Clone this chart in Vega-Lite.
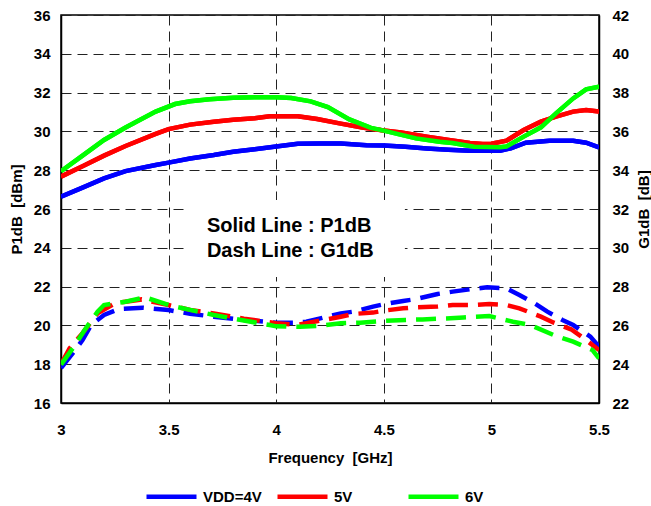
{
  "$schema": "https://vega.github.io/schema/vega-lite/v6.json",
  "width": 538,
  "height": 388,
  "autosize": {"type": "none"},
  "padding": {"left": 61, "top": 15, "right": 52, "bottom": 103},
  "background": "white",
  "config": {
    "font": "Liberation Sans",
    "view": {"stroke": "black", "strokeWidth": 1.5},
    "axis": {
      "labelFont": "Liberation Sans",
      "labelFontWeight": "bold",
      "labelFontSize": 15,
      "labelColor": "black",
      "labelOverlap": false,
      "labelFlush": false,
      "labelBound": false,
      "titleFont": "Liberation Sans",
      "titleFontWeight": "bold",
      "titleFontSize": 15,
      "titleColor": "black",
      "tickSize": 0,
      "domainColor": "black",
      "domainWidth": 1.5,
      "gridColor": "#222",
      "gridDash": [10, 6],
      "gridWidth": 1
    },
    "legend": {
      "orient": "none",
      "legendX": 83,
      "legendY": 454,
      "direction": "horizontal",
      "symbolType": "stroke",
      "symbolSize": 2500,
      "symbolStrokeWidth": 4.5,
      "labelFont": "Liberation Sans",
      "labelFontWeight": "bold",
      "labelFontSize": 15,
      "labelColor": "black",
      "labelOffset": 4,
      "gridAlign": "all",
      "columnPadding": 6,
      "title": null
    }
  },
  "datasets": {
    "p1db": [
      {"f": 3.0, "v": 26.63, "s": "VDD=4V"}, {"f": 3.1, "v": 27.1, "s": "VDD=4V"}, {"f": 3.2, "v": 27.58, "s": "VDD=4V"},
      {"f": 3.3, "v": 27.95, "s": "VDD=4V"}, {"f": 3.44, "v": 28.27, "s": "VDD=4V"}, {"f": 3.5, "v": 28.39, "s": "VDD=4V"},
      {"f": 3.6, "v": 28.6, "s": "VDD=4V"}, {"f": 3.71, "v": 28.78, "s": "VDD=4V"}, {"f": 3.8, "v": 28.95, "s": "VDD=4V"},
      {"f": 3.9, "v": 29.08, "s": "VDD=4V"}, {"f": 4.0, "v": 29.22, "s": "VDD=4V"}, {"f": 4.1, "v": 29.36, "s": "VDD=4V"},
      {"f": 4.2, "v": 29.38, "s": "VDD=4V"}, {"f": 4.3, "v": 29.38, "s": "VDD=4V"}, {"f": 4.42, "v": 29.28, "s": "VDD=4V"},
      {"f": 4.5, "v": 29.27, "s": "VDD=4V"}, {"f": 4.6, "v": 29.21, "s": "VDD=4V"}, {"f": 4.7, "v": 29.12, "s": "VDD=4V"},
      {"f": 4.8, "v": 29.05, "s": "VDD=4V"}, {"f": 4.9, "v": 29.0, "s": "VDD=4V"}, {"f": 5.04, "v": 29.0, "s": "VDD=4V"},
      {"f": 5.09, "v": 29.13, "s": "VDD=4V"}, {"f": 5.16, "v": 29.42, "s": "VDD=4V"}, {"f": 5.27, "v": 29.52, "s": "VDD=4V"},
      {"f": 5.38, "v": 29.52, "s": "VDD=4V"}, {"f": 5.44, "v": 29.42, "s": "VDD=4V"}, {"f": 5.5, "v": 29.18, "s": "VDD=4V"},

      {"f": 3.0, "v": 27.67, "s": "5V"}, {"f": 3.1, "v": 28.2, "s": "5V"}, {"f": 3.2, "v": 28.75, "s": "5V"},
      {"f": 3.3, "v": 29.25, "s": "5V"}, {"f": 3.44, "v": 29.87, "s": "5V"}, {"f": 3.5, "v": 30.12, "s": "5V"},
      {"f": 3.6, "v": 30.35, "s": "5V"}, {"f": 3.71, "v": 30.5, "s": "5V"}, {"f": 3.8, "v": 30.6, "s": "5V"},
      {"f": 3.9, "v": 30.68, "s": "5V"}, {"f": 3.97, "v": 30.78, "s": "5V"}, {"f": 4.1, "v": 30.78, "s": "5V"},
      {"f": 4.19, "v": 30.64, "s": "5V"}, {"f": 4.3, "v": 30.4, "s": "5V"}, {"f": 4.4, "v": 30.2, "s": "5V"},
      {"f": 4.5, "v": 30.05, "s": "5V"}, {"f": 4.58, "v": 29.95, "s": "5V"}, {"f": 4.7, "v": 29.73, "s": "5V"},
      {"f": 4.81, "v": 29.55, "s": "5V"}, {"f": 4.9, "v": 29.4, "s": "5V"}, {"f": 4.96, "v": 29.35, "s": "5V"},
      {"f": 5.0, "v": 29.36, "s": "5V"}, {"f": 5.07, "v": 29.52, "s": "5V"}, {"f": 5.15, "v": 30.07, "s": "5V"},
      {"f": 5.23, "v": 30.5, "s": "5V"}, {"f": 5.3, "v": 30.76, "s": "5V"}, {"f": 5.38, "v": 31.02, "s": "5V"},
      {"f": 5.44, "v": 31.1, "s": "5V"}, {"f": 5.5, "v": 31.02, "s": "5V"},

      {"f": 3.0, "v": 27.95, "s": "6V"}, {"f": 3.1, "v": 28.75, "s": "6V"}, {"f": 3.2, "v": 29.56, "s": "6V"},
      {"f": 3.3, "v": 30.2, "s": "6V"}, {"f": 3.44, "v": 31.02, "s": "6V"}, {"f": 3.53, "v": 31.41, "s": "6V"},
      {"f": 3.6, "v": 31.55, "s": "6V"}, {"f": 3.69, "v": 31.66, "s": "6V"}, {"f": 3.8, "v": 31.74, "s": "6V"},
      {"f": 3.9, "v": 31.76, "s": "6V"}, {"f": 4.0, "v": 31.76, "s": "6V"}, {"f": 4.07, "v": 31.72, "s": "6V"},
      {"f": 4.16, "v": 31.55, "s": "6V"}, {"f": 4.24, "v": 31.25, "s": "6V"}, {"f": 4.34, "v": 30.62, "s": "6V"},
      {"f": 4.44, "v": 30.18, "s": "6V"}, {"f": 4.5, "v": 30.04, "s": "6V"}, {"f": 4.65, "v": 29.64, "s": "6V"},
      {"f": 4.76, "v": 29.47, "s": "6V"}, {"f": 4.82, "v": 29.4, "s": "6V"}, {"f": 4.92, "v": 29.21, "s": "6V"},
      {"f": 5.04, "v": 29.18, "s": "6V"}, {"f": 5.07, "v": 29.22, "s": "6V"}, {"f": 5.15, "v": 29.73, "s": "6V"},
      {"f": 5.23, "v": 30.21, "s": "6V"}, {"f": 5.3, "v": 30.93, "s": "6V"}, {"f": 5.38, "v": 31.7, "s": "6V"},
      {"f": 5.44, "v": 32.17, "s": "6V"}, {"f": 5.5, "v": 32.31, "s": "6V"}
    ],
    "g1db": [
      {"f": 3.0, "v": 23.8, "s": "VDD=4V"}, {"f": 3.06, "v": 24.64, "s": "VDD=4V"}, {"f": 3.1, "v": 25.25, "s": "VDD=4V"},
      {"f": 3.14, "v": 26.02, "s": "VDD=4V"}, {"f": 3.2, "v": 26.54, "s": "VDD=4V"}, {"f": 3.27, "v": 26.85, "s": "VDD=4V"},
      {"f": 3.38, "v": 26.91, "s": "VDD=4V"}, {"f": 3.5, "v": 26.79, "s": "VDD=4V"}, {"f": 3.6, "v": 26.6, "s": "VDD=4V"},
      {"f": 3.71, "v": 26.45, "s": "VDD=4V"}, {"f": 3.85, "v": 26.28, "s": "VDD=4V"}, {"f": 4.0, "v": 26.14, "s": "VDD=4V"},
      {"f": 4.09, "v": 26.14, "s": "VDD=4V"}, {"f": 4.14, "v": 26.19, "s": "VDD=4V"}, {"f": 4.3, "v": 26.62, "s": "VDD=4V"},
      {"f": 4.36, "v": 26.71, "s": "VDD=4V"}, {"f": 4.45, "v": 26.97, "s": "VDD=4V"}, {"f": 4.5, "v": 27.09, "s": "VDD=4V"},
      {"f": 4.59, "v": 27.26, "s": "VDD=4V"}, {"f": 4.65, "v": 27.36, "s": "VDD=4V"}, {"f": 4.75, "v": 27.62, "s": "VDD=4V"},
      {"f": 4.82, "v": 27.74, "s": "VDD=4V"}, {"f": 4.9, "v": 27.86, "s": "VDD=4V"}, {"f": 4.98, "v": 27.96, "s": "VDD=4V"},
      {"f": 5.07, "v": 27.91, "s": "VDD=4V"}, {"f": 5.13, "v": 27.57, "s": "VDD=4V"}, {"f": 5.2, "v": 27.14, "s": "VDD=4V"},
      {"f": 5.26, "v": 26.71, "s": "VDD=4V"}, {"f": 5.33, "v": 26.28, "s": "VDD=4V"}, {"f": 5.38, "v": 26.02, "s": "VDD=4V"},
      {"f": 5.46, "v": 25.42, "s": "VDD=4V"}, {"f": 5.5, "v": 24.9, "s": "VDD=4V"},

      {"f": 3.0, "v": 24.0, "s": "5V"}, {"f": 3.04, "v": 24.82, "s": "5V"}, {"f": 3.1, "v": 25.6, "s": "5V"},
      {"f": 3.17, "v": 26.62, "s": "5V"}, {"f": 3.25, "v": 27.14, "s": "5V"}, {"f": 3.375, "v": 27.34, "s": "5V"},
      {"f": 3.5, "v": 27.05, "s": "5V"}, {"f": 3.6, "v": 26.8, "s": "5V"}, {"f": 3.71, "v": 26.62, "s": "5V"},
      {"f": 3.85, "v": 26.35, "s": "5V"}, {"f": 4.0, "v": 26.11, "s": "5V"}, {"f": 4.1, "v": 26.03, "s": "5V"},
      {"f": 4.14, "v": 26.11, "s": "5V"}, {"f": 4.3, "v": 26.45, "s": "5V"}, {"f": 4.36, "v": 26.59, "s": "5V"},
      {"f": 4.45, "v": 26.66, "s": "5V"}, {"f": 4.5, "v": 26.76, "s": "5V"}, {"f": 4.59, "v": 26.88, "s": "5V"},
      {"f": 4.65, "v": 26.93, "s": "5V"}, {"f": 4.75, "v": 26.97, "s": "5V"}, {"f": 4.82, "v": 27.05, "s": "5V"},
      {"f": 4.92, "v": 27.05, "s": "5V"}, {"f": 4.99, "v": 27.1, "s": "5V"}, {"f": 5.07, "v": 27.05, "s": "5V"},
      {"f": 5.13, "v": 26.88, "s": "5V"}, {"f": 5.23, "v": 26.45, "s": "5V"}, {"f": 5.29, "v": 26.14, "s": "5V"},
      {"f": 5.37, "v": 25.8, "s": "5V"}, {"f": 5.43, "v": 25.33, "s": "5V"}, {"f": 5.5, "v": 24.73, "s": "5V"},

      {"f": 3.0, "v": 23.98, "s": "6V"}, {"f": 3.06, "v": 24.9, "s": "6V"}, {"f": 3.11, "v": 25.76, "s": "6V"},
      {"f": 3.17, "v": 26.71, "s": "6V"}, {"f": 3.2, "v": 27.05, "s": "6V"}, {"f": 3.3, "v": 27.22, "s": "6V"},
      {"f": 3.39, "v": 27.45, "s": "6V"}, {"f": 3.5, "v": 27.05, "s": "6V"}, {"f": 3.6, "v": 26.8, "s": "6V"},
      {"f": 3.71, "v": 26.54, "s": "6V"}, {"f": 3.85, "v": 26.25, "s": "6V"}, {"f": 3.97, "v": 26.02, "s": "6V"},
      {"f": 4.0, "v": 25.95, "s": "6V"}, {"f": 4.11, "v": 25.93, "s": "6V"}, {"f": 4.19, "v": 25.97, "s": "6V"},
      {"f": 4.3, "v": 26.11, "s": "6V"}, {"f": 4.39, "v": 26.14, "s": "6V"}, {"f": 4.5, "v": 26.23, "s": "6V"},
      {"f": 4.6, "v": 26.28, "s": "6V"}, {"f": 4.68, "v": 26.31, "s": "6V"}, {"f": 4.79, "v": 26.36, "s": "6V"},
      {"f": 4.87, "v": 26.41, "s": "6V"}, {"f": 4.99, "v": 26.48, "s": "6V"}, {"f": 5.1, "v": 26.19, "s": "6V"},
      {"f": 5.18, "v": 26.02, "s": "6V"}, {"f": 5.29, "v": 25.5, "s": "6V"}, {"f": 5.38, "v": 25.16, "s": "6V"},
      {"f": 5.47, "v": 24.73, "s": "6V"}, {"f": 5.5, "v": 24.3, "s": "6V"}
    ],
    "note": [{"label": "box"}]
  },
  "layer": [
    {
      "layer": [
        {
          "data": {"name": "p1db"},
          "mark": {"type": "line", "strokeWidth": 4.5, "clip": true},
          "encoding": {
            "x": {
              "field": "f", "type": "quantitative",
              "scale": {"domain": [3, 5.5], "nice": false, "zero": false},
              "axis": {"values": [3, 3.5, 4, 4.5, 5, 5.5], "format": "~g", "title": "Frequency\u00a0 [GHz]", "labelPadding": 19, "titlePadding": 13, "grid": true}
            },
            "y": {
              "field": "v", "type": "quantitative",
              "scale": {"domain": [16, 36], "nice": false, "zero": false},
              "axis": {"values": [16, 18, 20, 22, 24, 26, 28, 30, 32, 34, 36], "tickCount": 11, "format": "d", "title": "P1dB\u00a0 [dBm]", "labelPadding": 11, "titlePadding": 9, "grid": true}
            },
            "color": {
              "field": "s", "type": "nominal",
              "scale": {"domain": ["VDD=4V", "5V", "6V"], "range": ["#0000FF", "#FF0000", "#00FF00"]}
            }
          }
        },
        {
          "data": {"name": "note"},
          "mark": {"type": "rect", "fill": "white"},
          "encoding": {
            "x": {"datum": 3.585, "type": "quantitative"},
            "x2": {"datum": 4.598},
            "y": {"datum": 26.46, "type": "quantitative",
              "axis": {"values": [16, 18, 20, 22, 24, 26, 28, 30, 32, 34, 36], "tickCount": 11, "format": "d", "title": "P1dB\u00a0 [dBm]", "labelPadding": 11, "titlePadding": 9, "grid": true}},
            "y2": {"datum": 22.5}
          }
        },
        {
          "data": {"name": "note"},
          "mark": {"type": "text", "align": "left", "baseline": "alphabetic", "fontSize": 20, "fontWeight": "bold", "font": "Liberation Sans", "color": "black"},
          "encoding": {
            "x": {"datum": 3.678, "type": "quantitative"},
            "y": {"datum": 24.81, "type": "quantitative",
              "axis": {"values": [16, 18, 20, 22, 24, 26, 28, 30, 32, 34, 36], "tickCount": 11, "format": "d", "title": "P1dB\u00a0 [dBm]", "labelPadding": 11, "titlePadding": 9, "grid": true}},
            "text": {"value": "Solid Line : P1dB"}
          }
        },
        {
          "data": {"name": "note"},
          "mark": {"type": "text", "align": "left", "baseline": "alphabetic", "fontSize": 20, "fontWeight": "bold", "font": "Liberation Sans", "color": "black"},
          "encoding": {
            "x": {"datum": 3.678, "type": "quantitative"},
            "y": {"datum": 23.53, "type": "quantitative",
              "axis": {"values": [16, 18, 20, 22, 24, 26, 28, 30, 32, 34, 36], "tickCount": 11, "format": "d", "title": "P1dB\u00a0 [dBm]", "labelPadding": 11, "titlePadding": 9, "grid": true}},
            "text": {"value": "Dash Line : G1dB"}
          }
        },
        {
          "data": {"name": "p1db"},
          "mark": {"type": "line", "strokeWidth": 4.5, "clip": true},
          "encoding": {
            "x": {"field": "f", "type": "quantitative"},
            "y": {"field": "v", "type": "quantitative",
              "axis": {"values": [16, 18, 20, 22, 24, 26, 28, 30, 32, 34, 36], "tickCount": 11, "format": "d", "title": "P1dB\u00a0 [dBm]", "labelPadding": 11, "titlePadding": 9, "grid": true}},
            "color": {"field": "s", "type": "nominal"}
          }
        }
      ]
    },
    {
      "data": {"name": "g1db"},
      "mark": {"type": "line", "strokeWidth": 4.5, "strokeDash": [20, 10], "clip": true},
      "encoding": {
        "x": {"field": "f", "type": "quantitative"},
        "y": {
          "field": "v", "type": "quantitative",
          "scale": {"domain": [22, 42], "nice": false, "zero": false},
          "axis": {"orient": "right", "values": [22, 24, 26, 28, 30, 32, 34, 36, 38, 40, 42], "format": "d", "title": "G1dB\u00a0 [dB]", "titleAngle": 270, "titleAlign": "center", "titleBaseline": "middle", "titleX": 44, "titleY": 194, "labelPadding": 13, "grid": false}
        },
        "color": {"field": "s", "type": "nominal"}
      }
    }
  ],
  "resolve": {"scale": {"y": "independent"}}
}
